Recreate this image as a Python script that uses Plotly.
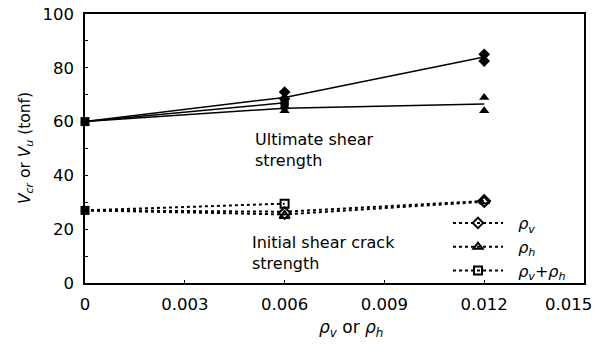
import plotly.graph_objects as go

# ---- data ----
x_avg = [0, 0.006, 0.012]
x_avg_vh = [0, 0.006]

# Ultimate shear strength (average lines)
ult_v_avg = [60, 69, 84]
ult_h_avg = [60, 65, 66.5]
ult_vh_avg = [60, 67]

# Ultimate shear strength (individual specimens)
ult_v_x = [0.006, 0.006, 0.012, 0.012]
ult_v_y = [71, 68.5, 85, 82.5]
ult_h_x = [0.006, 0.006, 0.012, 0.012]
ult_h_y = [65.5, 64, 69, 64]
ult_vh_x = [0.006, 0.006]
ult_vh_y = [67.5, 66]

# Initial shear crack strength (average lines)
crk_v_avg = [27, 26.5, 30.5]
crk_h_avg = [27, 25.5, 30.2]
crk_vh_avg = [27, 29.5]

# Initial shear crack strength (individual specimens)
crk_v_x = [0.006, 0.012]
crk_v_y = [26, 30.5]
crk_h_x = [0.006, 0.012]
crk_h_y = [25, 30.5]
crk_vh_x = [0.006]
crk_vh_y = [29.5]

# control specimen
ctrl_x = [0, 0]
ctrl_y = [60, 27]

x_ticks = [0, 0.003, 0.006, 0.009, 0.012, 0.015]
x_ticklabels = ["0", "0.003", "0.006", "0.009", "0.012", "0.015"]
y_ticks = [0, 20, 40, 60, 80, 100]

FONT = "DejaVu Sans"
K = "black"
W, H = 606, 347
L, R, T, B = 85, 22, 14, 64
pw, ph = W - L - R, H - T - B
TICKSIZE = 16.5

fig = go.Figure()

# ultimate lines
for xs, ys in [(x_avg, ult_v_avg), (x_avg, ult_h_avg), (x_avg_vh, ult_vh_avg)]:
    fig.add_trace(go.Scatter(x=xs, y=ys, mode="lines", line=dict(color=K, width=1.5),
                             showlegend=False, hoverinfo="skip"))
fig.add_trace(go.Scatter(x=ult_v_x, y=ult_v_y, mode="markers",
                         marker=dict(symbol="diamond", size=9, color=K), showlegend=False))
fig.add_trace(go.Scatter(x=ult_h_x, y=ult_h_y, mode="markers",
                         marker=dict(symbol="triangle-up", size=9, color=K), showlegend=False))
fig.add_trace(go.Scatter(x=ult_vh_x, y=ult_vh_y, mode="markers",
                         marker=dict(symbol="square", size=8, color=K), showlegend=False))

# crack lines (dotted)
dot = dict(color=K, width=2, dash="dot")
fig.add_trace(go.Scatter(x=x_avg, y=crk_v_avg, mode="lines", line=dot, showlegend=False))
fig.add_trace(go.Scatter(x=x_avg, y=crk_h_avg, mode="lines", line=dot, showlegend=False))
fig.add_trace(go.Scatter(x=x_avg_vh, y=crk_vh_avg, mode="lines", line=dot, showlegend=False))
fig.add_trace(go.Scatter(x=crk_v_x, y=crk_v_y, mode="markers",
                         marker=dict(symbol="diamond-open", size=9, color=K, line=dict(width=2)),
                         showlegend=False))
fig.add_trace(go.Scatter(x=crk_h_x, y=crk_h_y, mode="markers",
                         marker=dict(symbol="triangle-up-open", size=9, color=K, line=dict(width=2)),
                         showlegend=False))
fig.add_trace(go.Scatter(x=crk_vh_x, y=crk_vh_y, mode="markers",
                         marker=dict(symbol="square-open", size=8, color=K, line=dict(width=2)),
                         showlegend=False))
fig.add_trace(go.Scatter(x=ctrl_x, y=ctrl_y, mode="markers",
                         marker=dict(symbol="square", size=9, color=K), showlegend=False,
                         cliponaxis=False))

# legend entries
leg = [("diamond-open", "  <i>ρ</i><sub><i>v</i></sub>"),
       ("triangle-up-open", "  <i>ρ</i><sub><i>h</i></sub>"),
       ("square-open", "  <i>ρ</i><sub><i>v</i></sub>+<i>ρ</i><sub><i>h</i></sub>")]
for sym, name in leg:
    fig.add_trace(go.Scatter(x=[None], y=[None], mode="lines+markers", name=name,
                             line=dict(color=K, width=2, dash="dot"),
                             marker=dict(symbol=sym, size=8, color=K, line=dict(width=2))))

fig.add_annotation(x=0.00505, y=57.5, xref="x", yref="y", xanchor="left", yanchor="top",
                   text="Ultimate shear<br>strength", showarrow=False, align="left",
                   font=dict(size=16, color=K, family=FONT))
fig.add_annotation(x=0.00495, y=19.5, xref="x", yref="y", xanchor="left", yanchor="top",
                   text="Initial shear crack<br>strength", showarrow=False, align="left",
                   font=dict(size=16, color=K, family=FONT))

# axis titles as annotations (pixel positions converted to paper coords)
fig.add_annotation(x=(351 - L) / pw, y=(H - B - 328) / ph, xref="paper", yref="paper",
                   xanchor="center", yanchor="middle", showarrow=False,
                   text="<i>ρ</i><sub><i>v</i></sub> or <i>ρ</i><sub><i>h</i></sub>",
                   font=dict(size=17, color=K, family=FONT))
fig.add_annotation(x=(26 - L) / pw, y=(H - B - 148) / ph, xref="paper", yref="paper",
                   xanchor="center", yanchor="middle", showarrow=False, textangle=-90,
                   text="<i>V</i><sub><i>cr</i></sub> or <i>V</i><sub><i>u</i></sub> (tonf)",
                   font=dict(size=15.5, color=K, family=FONT))

# last x tick label is drawn shifted left of its tick (as in the reference) so it fits
fig.add_annotation(x=(594 - L) / pw, y=(H - B - 304) / ph, xref="paper", yref="paper",
                   xanchor="right", yanchor="middle", showarrow=False,
                   text=x_ticklabels[-1], font=dict(size=TICKSIZE, color=K, family=FONT))
shown_ticktext = x_ticklabels[:-1] + [""]

fig.update_layout(
    width=W, height=H,
    margin=dict(l=L, r=R, t=T, b=B),
    paper_bgcolor="white", plot_bgcolor="white",
    font=dict(family=FONT, size=16, color=K),
    legend=dict(x=(448 - L) / pw, y=-5 / ph, xanchor="left", yanchor="bottom",
                bgcolor="rgba(0,0,0,0)", font=dict(size=16), tracegroupgap=0,
                itemwidth=50, traceorder="normal"),
    xaxis=dict(range=[0, 0.015], tickvals=x_ticks, ticktext=shown_ticktext, automargin=False,
               showgrid=False, zeroline=False, showline=True, linecolor=K, linewidth=1.5,
               mirror=True, ticks="inside", ticklen=3, tickcolor=K, ticklabelstandoff=5,
               ticklabeloverflow="allow", tickfont=dict(size=TICKSIZE)),
    yaxis=dict(range=[0, 100], tickvals=y_ticks, showgrid=False, zeroline=False, automargin=False,
               showline=True, linecolor=K, linewidth=1.5, mirror=True,
               ticks="inside", ticklen=3, tickcolor=K, ticklabeloverflow="allow",
               ticklabelstandoff=6, tickfont=dict(size=TICKSIZE),
               minor=dict(ticks="inside", ticklen=3, dtick=10, tickcolor=K)),
)

fig.write_html("out.html")
